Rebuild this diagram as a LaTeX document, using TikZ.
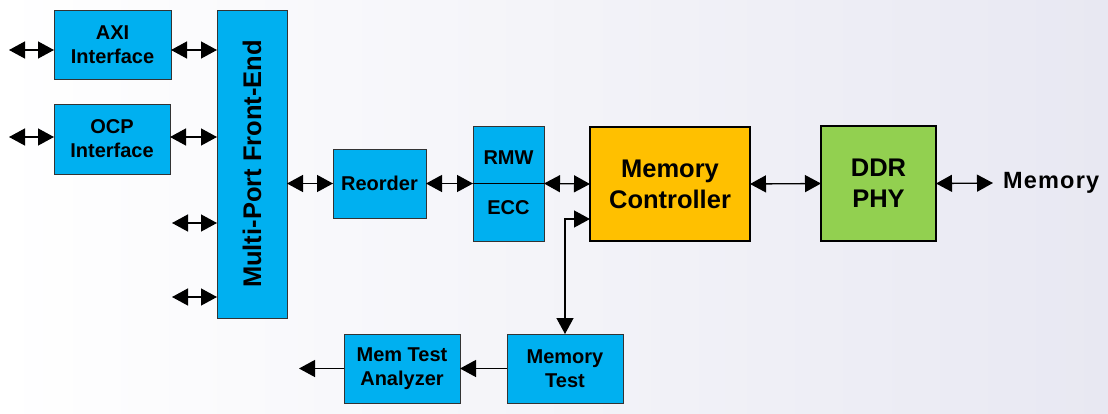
\documentclass[tikz,border=0pt]{standalone}
\usepackage{fontspec}
\setmainfont{Liberation Sans}
\usetikzlibrary{arrows.meta}
\definecolor{blk}{HTML}{00B0F0}
\definecolor{mcol}{HTML}{FFC000}
\definecolor{phycol}{HTML}{92D050}
\definecolor{bgr}{RGB}{232,232,242}
\tikzset{
  box/.style={draw=black!80, line width=1pt, fill=blk, inner sep=0pt, outer sep=0pt, align=center,
    font=\fontsize{20}{24}\selectfont\bfseries},
  bigbox/.style={draw=black, line width=2.8pt, inner sep=0pt, outer sep=0pt, align=center,
    font=\fontsize{25.5}{31}\selectfont\bfseries},
  tip/.tip={Triangle[length=16pt,width=17pt]},
  biarrow/.style={tip-tip, line width=1.3pt},
  onearrow/.style={-tip, line width=1.3pt},
}
\begin{document}
\begin{tikzpicture}[x=1pt,y=-1pt]
\shade[left color=white, right color=bgr] (0,0) rectangle (1108,413);
\useasboundingbox (0,0) rectangle (1108,413);

\node[box, minimum width=117pt, minimum height=69pt] (axi) at (112.5,44.5) {AXI\\Interface};
\node[box, minimum width=116pt, minimum height=70pt] (ocp) at (112,139) {OCP\\Interface};
\node[box, minimum width=70pt, minimum height=308pt] (fe) at (252,164) {};
\node[rotate=90, font=\fontsize{25.5}{30}\selectfont\bfseries] (fetext) at (fe.center) {Multi-Port Front-End};
\node[box, minimum width=93pt, minimum height=69pt] (reo) at (379.5,183.5) {Reorder};
\node[box, minimum width=71pt, minimum height=115pt] (rmw) at (508.5,183.5) {};
\draw[line width=1pt] (rmw.west) -- (rmw.east);
\node[font=\fontsize{20}{24}\selectfont\bfseries] (rmwt) at (508.5,158) {RMW};
\node[font=\fontsize{20}{24}\selectfont\bfseries] (ecct) at (508.5,208) {ECC};
\node[bigbox, fill=mcol, minimum width=160pt, minimum height=114pt] (mc) at (670,184) {Memory\\Controller};
\node[bigbox, fill=phycol, minimum width=115pt, minimum height=115pt] (phy) at (878.5,183.5) {DDR\\PHY};
\node[anchor=west, inner sep=0pt, inner xsep=10pt, font=\fontsize{23.5}{28}\selectfont\bfseries\addfontfeature{LetterSpace=5}] (mem) at (993,183) {Memory};
\node[box, minimum width=116pt, minimum height=69pt] (mt) at (565,368.5) {Memory\\Test};
\node[box, minimum width=116pt, minimum height=69pt] (mta) at (402,368.5) {Mem Test\\Analyzer};

\coordinate (a1) at (9,50);
\coordinate (a2) at (9,137);
\coordinate (a3) at (172,223);
\coordinate (a4) at (172,297);
\coordinate (mtc) at (567,219);
\coordinate (outl) at (299,368.5);

\draw[biarrow] (a1) -- (a1 -| axi.west);
\draw[biarrow] (axi.east |- a1) -- (a1 -| fe.west);
\draw[biarrow] (a2) -- (a2 -| ocp.west);
\draw[biarrow] (ocp.east |- a2) -- (a2 -| fe.west);
\draw[biarrow] (a3) -- (a3 -| fe.west);
\draw[biarrow] (a4) -- (a4 -| fe.west);
\draw[biarrow] (fe.east |- reo.west) -- (reo.west);
\draw[biarrow] (reo.east) -- (rmw.west);
\draw[biarrow] (rmw.east) -- (mc.west);
\draw[biarrow] (mc.east) -- (phy.west);
\draw[biarrow] (phy.east) -- (mem.west);
\draw[biarrow] (mc.west |- mtc) -| (mt.north);
\draw[onearrow] (mt.west) -- (mta.east);
\draw[onearrow] (mta.west) -- (outl);
\end{tikzpicture}
\end{document}
